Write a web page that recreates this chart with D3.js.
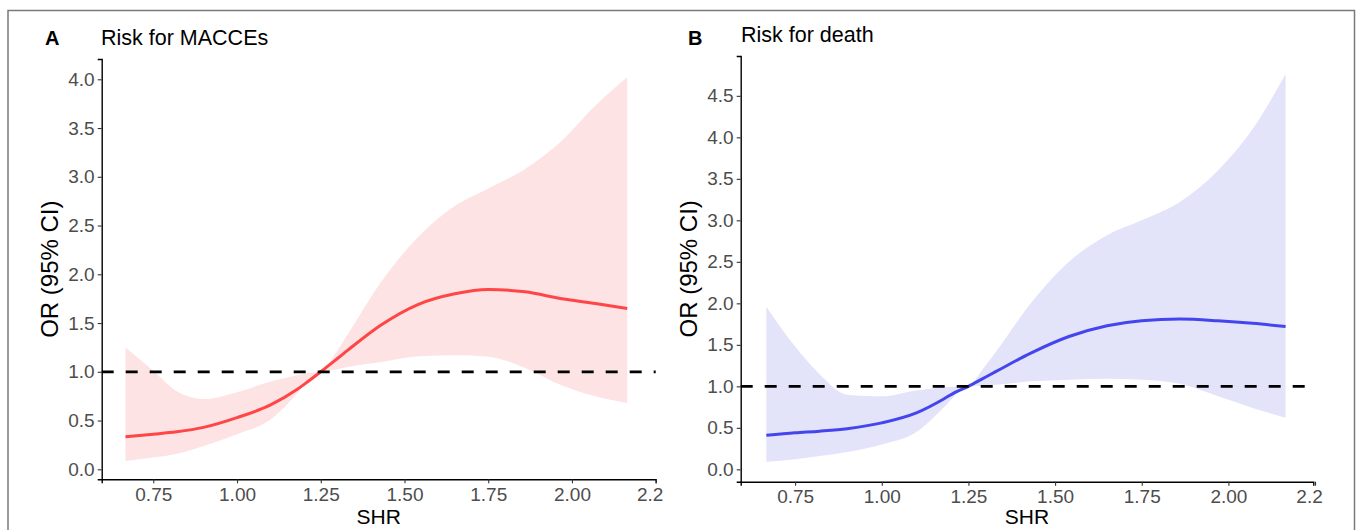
<!DOCTYPE html>
<html>
<head>
<meta charset="utf-8">
<script src="https://cdn.jsdelivr.net/npm/d3@7"></script>
<style>
  html, body { margin: 0; padding: 0; background: #fff; }
  svg { display: block; font-family: "Liberation Sans", Arial, sans-serif; }
</style>
</head>
<body>
<svg id="chart" width="1357" height="530"></svg>
<script>
// ---------- data ----------
const shrA   = [0.667, 0.75, 0.82, 0.90, 1.00, 1.10, 1.18, 1.21, 1.25, 1.29, 1.33, 1.43, 1.54, 1.65, 1.75, 1.86, 1.97, 2.07, 2.165];
const orA    = [0.334, 0.36, 0.385, 0.43, 0.53, 0.66, 0.82, 0.895, 1.00, 1.11, 1.22, 1.48, 1.69, 1.80, 1.845, 1.82, 1.75, 1.70, 1.65];
const upperA = [1.25, 1.01, 0.80, 0.72, 0.79, 0.90, 0.965, 0.985, 1.00, 1.17, 1.38, 1.92, 2.38, 2.70, 2.88, 3.08, 3.37, 3.73, 4.02];
const lowerA = [0.085, 0.12, 0.16, 0.24, 0.36, 0.51, 0.78, 0.90, 1.00, 1.02, 1.05, 1.10, 1.16, 1.17, 1.155, 1.04, 0.86, 0.75, 0.68];

const shrB   = [0.667, 0.75, 0.82, 0.90, 1.00, 1.10, 1.18, 1.21, 1.25, 1.29, 1.33, 1.43, 1.54, 1.65, 1.75, 1.86, 1.97, 2.07, 2.165];
const orB    = [0.41, 0.44, 0.46, 0.49, 0.56, 0.68, 0.85, 0.925, 1.00, 1.09, 1.18, 1.40, 1.60, 1.73, 1.79, 1.81, 1.79, 1.76, 1.72];
const upperB = [1.96, 1.48, 1.15, 0.90, 0.88, 0.95, 0.99, 0.995, 1.00, 1.20, 1.42, 2.00, 2.50, 2.82, 3.00, 3.22, 3.60, 4.10, 4.76];
const lowerB = [0.09, 0.12, 0.16, 0.21, 0.30, 0.45, 0.75, 0.88, 1.00, 1.01, 1.02, 1.06, 1.08, 1.09, 1.08, 1.03, 0.88, 0.74, 0.62];

const xTicks      = [0.75, 1.00, 1.25, 1.50, 1.75, 2.00, 2.25];
const xTickLabels = ["0.75", "1.00", "1.25", "1.50", "1.75", "2.00", "2.2"];
const yTicksA     = [0, 0.5, 1, 1.5, 2, 2.5, 3, 3.5, 4];
const yTicksB     = [0, 0.5, 1, 1.5, 2, 2.5, 3, 3.5, 4, 4.5];
const panelTags   = ["A", "B"];
const panelTitles = ["Risk for MACCEs", "Risk for death"];
const xTitle = "SHR";
const yTitle = "OR (95% CI)";
const refOR = 1;

// ---------- layout ----------
const svg = d3.select("#chart");
svg.append("rect").attr("x", 8).attr("y", 10.5).attr("width", 1346.5).attr("height", 540)
  .attr("fill", "none").attr("stroke", "#7a7a7a").attr("stroke-width", 1.5);

const panels = [
  { tag: panelTags[0], title: panelTitles[0], x: shrA, y: orA, lo: lowerA, hi: upperA, yTicks: yTicksA,
    xr: [101.7, 655.7], xd: [0.596, 2.25], yr: [479.3, 59], yd: [-0.1026, 4.208],
    line: "#FF4545", fill: "#FDE3E3", tagX: 45, titleX: 101, titleY: 45 },
  { tag: panelTags[1], title: panelTitles[1], x: shrB, y: orB, lo: lowerB, hi: upperB, yTicks: yTicksB,
    xr: [740.7, 1313.3], xd: [0.593, 2.245], yr: [481.7, 56], yd: [-0.149, 4.98],
    line: "#4545EE", fill: "#E3E3FA", tagX: 688, titleX: 741, titleY: 42 }
];

panels.forEach(p => {
  const g = svg.append("g");
  const xs = d3.scaleLinear().domain(p.xd).range(p.xr);
  const ys = d3.scaleLinear().domain(p.yd).range(p.yr);
  const pts = p.x.map((v, i) => ({ x: v, y: p.y[i], lo: p.lo[i], hi: p.hi[i] }));

  g.append("path").datum(pts)
    .attr("d", d3.area().x(d => xs(d.x)).y0(d => ys(d.lo)).y1(d => ys(d.hi)).curve(d3.curveMonotoneX))
    .attr("fill", p.fill).attr("stroke", "none");

  g.append("path").datum(pts)
    .attr("d", d3.line().x(d => xs(d.x)).y(d => ys(d.y)).curve(d3.curveMonotoneX))
    .attr("fill", "none").attr("stroke", p.line).attr("stroke-width", 3);

  g.append("line")
    .attr("x1", p.xr[0]).attr("x2", p.xr[1]).attr("y1", ys(refOR)).attr("y2", ys(refOR))
    .attr("stroke", "#000").attr("stroke-width", 2.8).attr("stroke-dasharray", "12,12");

  // axes
  const xa = g.append("g").attr("transform", `translate(0,${p.yr[0]})`)
    .call(d3.axisBottom(xs).tickValues(xTicks).tickFormat((d, i) => xTickLabels[i]).tickSizeOuter(0).tickSize(4).tickPadding(4));
  const ya = g.append("g").attr("transform", `translate(${p.xr[0]},0)`)
    .call(d3.axisLeft(ys).tickValues(p.yTicks).tickFormat(d3.format(".1f")).tickSizeOuter(0).tickSize(4).tickPadding(3));
  [xa, ya].forEach(a => {
    a.attr("font-size", null).attr("font-family", null);
    a.select(".domain").attr("stroke", "#000").attr("stroke-width", 1.4);
    a.selectAll(".tick line").attr("stroke", "#333").attr("stroke-width", 1.1);
    a.selectAll(".tick text").attr("fill", "#4D4D4D").style("font-size", "19px");
  });
  xa.selectAll(".tick text").filter((d, i) => i === xTicks.length - 1).attr("dx", -6);

  // titles
  g.append("text").attr("x", (p.xr[0] + p.xr[1]) / 2).attr("y", 524).attr("text-anchor", "middle")
    .style("font-size", "21px").attr("fill", "#000").text(xTitle);
  g.append("text").attr("transform", `translate(${p.xr[0] - 43.5},${(p.yr[0] + p.yr[1]) / 2}) rotate(-90)`)
    .attr("text-anchor", "middle").style("font-size", "24px").attr("fill", "#000").text(yTitle);
  g.append("text").attr("x", p.tagX).attr("y", 45).style("font-size", "20px").style("font-weight", "bold")
    .attr("fill", "#000").text(p.tag);
  g.append("text").attr("x", p.titleX).attr("y", p.titleY).style("font-size", "21.5px")
    .attr("fill", "#000").text(p.title);
});
</script>
</body>
</html>
